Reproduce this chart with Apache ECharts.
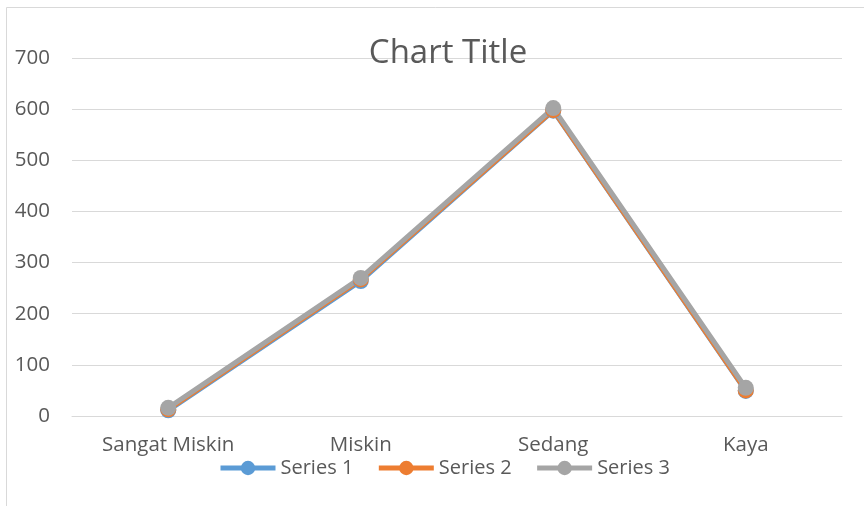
<!DOCTYPE html>
<html>
<head>
    <meta charset="UTF-8">
    <title>Chart Title</title>
    <script src="https://cdn.jsdelivr.net/npm/echarts@6.0.0/dist/echarts.min.js"></script>
    <style>
        html, body { margin: 0; padding: 0; background: #fff; }
        #main { width: 864px; height: 506px; }
    </style>
</head>
<body>
    <div id="main"></div>
    <script>
        // data
        var categories = ['Sangat Miskin', 'Miskin', 'Sedang', 'Kaya'];
        var series1 = [11, 264, 597, 49];
        var series2 = [13, 267, 598, 50];
        var series3 = [16, 270, 602, 55];
        var yTicks = { min: 0, max: 700, interval: 100 };

        var font = 'Open Sans';
        var grey = '#595959';

        function lineSeries(name, data, color) {
            return {
                name: name,
                type: 'line',
                data: data,
                symbol: 'circle',
                symbolSize: 16,
                lineStyle: { color: color, width: 5 },
                itemStyle: { color: color },
                emphasis: { disabled: true }
            };
        }

        var chart = echarts.init(document.getElementById('main'));
        var option = {
            animation: false,
            backgroundColor: '#fff',
            textStyle: { fontFamily: font },
            title: {
                text: 'Chart Title',
                left: 443,
                top: 32,
                textAlign: 'center',
                textStyle: { fontFamily: font, fontSize: 33, fontWeight: 'normal', color: grey }
            },
            legend: {
                left: 218,
                top: 458,
                padding: 0,
                itemWidth: 55,
                itemHeight: 18,
                itemGap: 23,
                lineStyle: { width: 5 },
                textStyle: { fontFamily: font, fontSize: 20, color: grey },
                data: ['Series 1', 'Series 2', 'Series 3']
            },
            grid: { left: 72, top: 58, width: 770, height: 358, containLabel: false },
            xAxis: {
                type: 'category',
                data: categories,
                boundaryGap: true,
                axisLine: { show: true, lineStyle: { color: '#D9D9D9', width: 1 } },
                axisTick: { show: false },
                axisLabel: { margin: 19, fontFamily: font, fontSize: 20.5, color: grey }
            },
            yAxis: {
                type: 'value',
                min: yTicks.min,
                max: yTicks.max,
                interval: yTicks.interval,
                axisLine: { show: false },
                axisTick: { show: false },
                axisLabel: { margin: 22, fontFamily: font, fontSize: 20.5, color: grey },
                splitLine: { lineStyle: { color: '#D9D9D9', width: 1 } }
            },
            graphic: [{
                type: 'rect',
                silent: true,
                z: -10,
                shape: { x: 6.5, y: 7.5, width: 900, height: 600 },
                style: { fill: 'none', stroke: '#D9D9D9', lineWidth: 1 }
            }],
            series: [
                lineSeries('Series 1', series1, '#5B9BD5'),
                lineSeries('Series 2', series2, '#ED7D31'),
                lineSeries('Series 3', series3, '#A5A5A5')
            ]
        };
        chart.setOption(option);
    </script>
</body>
</html>
